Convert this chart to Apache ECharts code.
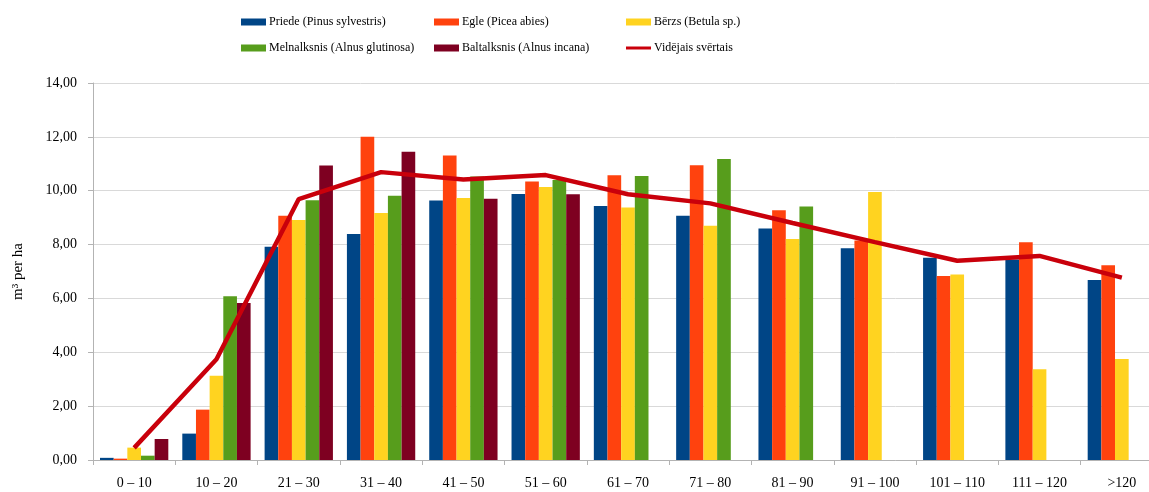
<!DOCTYPE html>
<html>
<head>
<meta charset="utf-8">
<script src="https://cdn.jsdelivr.net/npm/echarts@6/dist/echarts.min.js"></script>
<style>
  html, body { margin: 0; padding: 0; background: #fff; overflow: hidden; }
  #main { width: 1163px; height: 492px; }
</style>
</head>
<body>
<div id="main"></div>
<script>
const categories = ['0 – 10', '10 – 20', '21 – 30', '31 – 40', '41 – 50', '51 – 60', '61 – 70',
  '71 – 80', '81 – 90', '91 – 100', '101 – 110', '111 – 120', '>120'];

const priede = [0.08, 0.98, 7.92, 8.39, 9.64, 9.88, 9.43, 9.07, 8.60, 7.86, 7.51, 7.45, 6.68];
const egle = [0.05, 1.87, 9.07, 12.00, 11.31, 10.34, 10.57, 10.95, 9.27, 8.15, 6.83, 8.09, 7.23];
const berzs = [0.46, 3.13, 8.91, 9.17, 9.73, 10.14, 9.38, 8.70, 8.21, 9.95, 6.89, 3.37, 3.75];
const melnalksnis = [0.16, 6.08, 9.65, 9.81, 10.53, 10.40, 10.55, 11.18, 9.41, null, null, null, null];
const baltalksnis = [0.78, 5.83, 10.94, 11.45, 9.70, 9.87, null, null, null, null, null, null, null];
const videjais = [0.45, 3.74, 9.69, 10.69, 10.42, 10.58, 9.87, 9.53, 8.80, 8.09, 7.40, 7.58, 6.77];

const yTicks = [0, 2, 4, 6, 8, 10, 12, 14];

const font = 'Liberation Serif';
const barNames = ['Priede (Pinus sylvestris)', 'Egle (Picea abies)', 'Bērzs (Betula sp.)',
  'Melnalksnis (Alnus glutinosa)', 'Baltalksnis (Alnus incana)'];
const lineName = 'Vidējais svērtais';
const colors = ['#004586', '#ff420e', '#ffd320', '#579d1c', '#7e0021'];
const barData = [priede, egle, berzs, melnalksnis, baltalksnis];

// legend in 3 columns, 2 rows
const legendPos = [
  [241, 16], [434, 16], [626, 16],
  [241, 42], [434, 42], [626, 42]
];
const allNames = barNames.concat([lineName]);
const legends = allNames.map((n, i) => ({
  data: [n],
  left: legendPos[i][0],
  top: legendPos[i][1],
  itemWidth: 25,
  itemHeight: i === 5 ? 3 : 7,
  itemGap: 0,
  padding: 0,
  icon: 'rect',
  textStyle: {fontFamily: font, fontSize: 12, color: '#000', padding: [0, 0, 0, -2]},
  selectedMode: false
}));

// the div is a bit wider than the window: the plot runs past the right edge like in the original
const myChart = echarts.init(document.getElementById('main'));
myChart.setOption({
  animation: false,
  color: colors.concat(['#c9000b']),
  legend: legends,
  grid: {left: 93, right: 0, top: 83, bottom: 32, containLabel: false},
  xAxis: {
    type: 'category',
    data: categories,
    axisLine: {lineStyle: {color: '#b3b3b3'}},
    axisTick: {show: true, length: 5, lineStyle: {color: '#b3b3b3'}},
    axisLabel: {fontFamily: font, fontSize: 14, color: '#000', margin: 16, interval: 0}
  },
  yAxis: {
    type: 'value',
    min: yTicks[0],
    max: yTicks[yTicks.length - 1],
    interval: 2,
    name: 'm³ per ha',
    nameLocation: 'middle',
    nameGap: 67,
    nameTextStyle: {fontFamily: font, fontSize: 15, color: '#000'},
    axisLine: {show: true, lineStyle: {color: '#b3b3b3'}},
    axisTick: {show: true, length: 5, lineStyle: {color: '#b3b3b3'}},
    axisLabel: {
      fontFamily: font, fontSize: 14, color: '#000', margin: 16,
      formatter: v => v.toFixed(2).replace('.', ',')
    },
    splitLine: {lineStyle: {color: '#d9d9d9'}}
  },
  series: barData.map((d, i) => ({
    name: barNames[i],
    type: 'bar',
    data: d,
    barGap: '0%',
    barCategoryGap: '17%',
    itemStyle: {color: colors[i]}
  })).concat([{
    name: lineName,
    type: 'line',
    data: videjais,
    symbol: 'none',
    z: 5,
    lineStyle: {color: '#c9000b', width: 4.5},
    itemStyle: {color: '#c9000b'}
  }])
});
</script>
</body>
</html>
